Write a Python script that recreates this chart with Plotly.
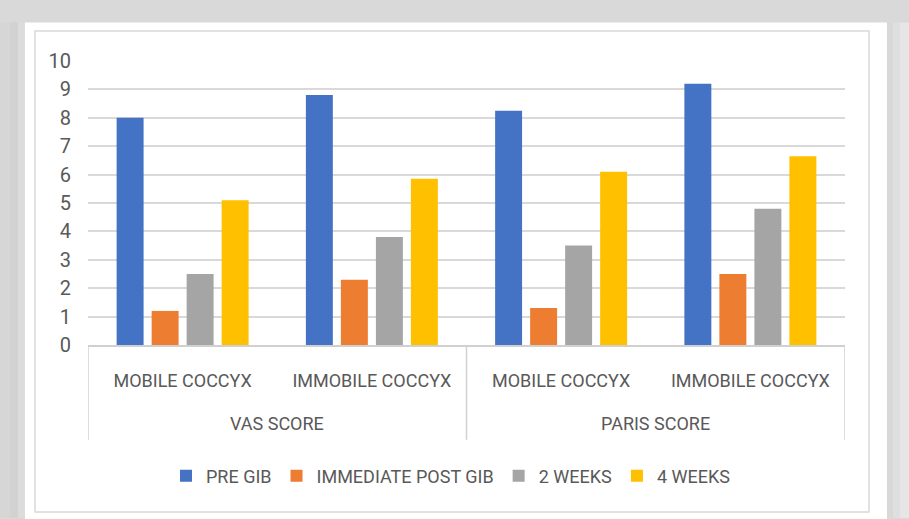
import plotly.graph_objects as go

# ---- data ----
groups = ["VAS SCORE", "PARIS SCORE"]
categories = ["MOBILE COCCYX", "IMMOBILE COCCYX", "MOBILE COCCYX", "IMMOBILE COCCYX"]
series_names = ["PRE GIB", "IMMEDIATE POST GIB", "2 WEEKS", "4 WEEKS"]
pre_gib = [8.0, 8.8, 8.25, 9.2]
immediate_post_gib = [1.2, 2.3, 1.3, 2.5]
weeks_2 = [2.5, 3.8, 3.5, 4.8]
weeks_4 = [5.1, 5.85, 6.1, 6.65]
y_ticks = list(range(0, 11))

colors = ["#4472C4", "#ED7D31", "#A5A5A5", "#FFC000"]
FONT = "Roboto"
TXT = "#595959"
FS = 18

W, H = 909, 519
L, R, T, B = 88, 64, 60.7, 173.5
pw = W - L - R
ph = H - T - B

def px_x(x):
    return (x - L) / pw

def px_y(y):
    return (H - B - y) / ph

xpos = list(range(len(categories)))
fig = go.Figure()
for name, vals, c in zip(series_names, [pre_gib, immediate_post_gib, weeks_2, weeks_4], colors):
    fig.add_trace(go.Bar(x=xpos, y=vals, name=name, marker=dict(color=c, line=dict(width=0))))

shapes = []
band = [("#d6d6d6", 0, 10), ("#d2d2d2", 10, 18), ("#dcdcdc", 18, 25),
        ("#d8d8d8", 887, 893), ("#dfdfdf", 893, 900), ("#e6e6e6", 900, 909)]
for col, a, b in band:
    shapes.append(dict(type="rect", xref="paper", yref="paper", x0=px_x(a), x1=px_x(b), y0=px_y(H), y1=px_y(22),
                       fillcolor=col, line=dict(width=0), layer="below"))
# white panel
shapes.append(dict(type="rect", xref="paper", yref="paper", x0=px_x(25), x1=px_x(887), y0=px_y(H + 2), y1=px_y(22),
                   fillcolor="white", line=dict(width=0), layer="below"))
# inner chart border
shapes.append(dict(type="rect", xref="paper", yref="paper", x0=px_x(35), x1=px_x(869), y0=px_y(513), y1=px_y(30.5),
                   fillcolor="rgba(0,0,0,0)", line=dict(width=1.5, color="#d9d9d9"), layer="below"))
# category dividers
for xv in [-0.5, 1.5, 3.5]:
    shapes.append(dict(type="line", xref="x", yref="paper", x0=xv, x1=xv, y0=0, y1=px_y(440.5),
                       line=dict(width=1.5, color="#d0d0d0")))

annotations = []
for i, g in enumerate(groups):
    annotations.append(dict(x=2 * i + 0.5, xref="x", y=px_y(424), yref="paper", text=g, showarrow=False,
                            font=dict(family=FONT, size=FS, color=TXT), xanchor="center", yanchor="middle"))

fig.update_layout(
    width=W, height=H,
    margin=dict(l=L, r=R, t=T, b=B, pad=0),
    paper_bgcolor="#d9d9d9",
    plot_bgcolor="rgba(0,0,0,0)",
    barmode="group",
    bargap=0.26,
    bargroupgap=0.23,
    shapes=shapes,
    annotations=annotations,
    font=dict(family=FONT, size=FS, color=TXT),
    legend=dict(orientation="h", x=px_x(451), xanchor="center", y=px_y(477), yanchor="middle",
                font=dict(family=FONT, size=FS, color=TXT), bgcolor="rgba(0,0,0,0)", itemwidth=30,
                traceorder="normal"),
    xaxis=dict(range=[-0.5, 3.5], tickmode="array", tickvals=xpos, ticktext=categories,
               showgrid=False, zeroline=False, showline=True, linecolor="#d0d0d0", linewidth=1.5,
               ticks="", ticklabelstandoff=19, tickfont=dict(family=FONT, size=FS, color=TXT)),
    yaxis=dict(range=[0, 10], tickmode="array", tickvals=y_ticks, showgrid=True, gridcolor="#d9d9d9",
               gridwidth=1.5, zeroline=False, showline=False, ticks="", ticklabelstandoff=16,
               tickfont=dict(family=FONT, size=20, color=TXT)),
)

fig.write_html("out.html")
